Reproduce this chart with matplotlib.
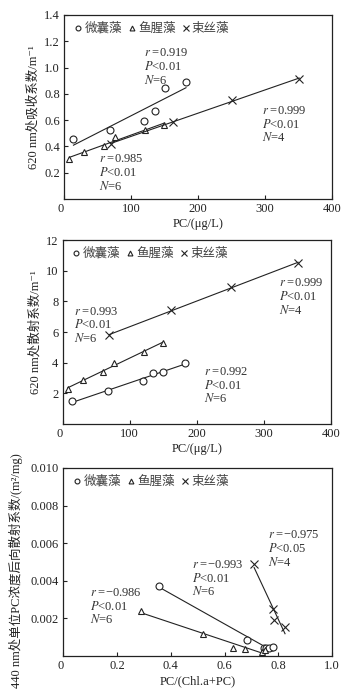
import matplotlib
matplotlib.use("Agg")
import matplotlib.pyplot as plt
import numpy as np

plt.rcParams['font.family'] = ['Liberation Serif', 'Noto Sans CJK SC', 'DejaVu Serif']
plt.rcParams['mathtext.fontset'] = 'stix'
plt.rcParams['font.size'] = 9

species = ['微囊藻', '鱼腥藻', '束丝藻']

# panel 1: absorption at 620 nm vs PC
pc_mic = [14, 68, 120, 135, 150, 182]
abs_mic = [0.46, 0.525, 0.596, 0.667, 0.842, 0.888]
pc_ana = [8, 30, 60, 76, 121, 149]
abs_ana = [0.302, 0.36, 0.406, 0.474, 0.525, 0.563]
pc_aph = [70, 162, 251, 351]
abs_aph = [0.418, 0.588, 0.753, 0.913]

# panel 2: scattering at 620 nm vs PC
sca_mic = [1.48, 2.15, 2.83, 3.3, 3.39, 3.98]
sca_ana = [2.26, 2.89, 3.39, 4.0, 4.72, 5.26]
sca_aph = [5.78, 7.43, 8.96, 10.48]

# panel 3: specific backscattering at 440 nm vs PC/(Chl.a+PC)
rat_mic = [0.356, 0.685, 0.745, 0.755, 0.765, 0.78]
bb_mic = [0.00371, 0.00085, 0.00040, 0.00045, 0.00040, 0.00050]
rat_ana = [0.29, 0.52, 0.63, 0.675, 0.74, 0.75]
bb_ana = [0.0024, 0.00115, 0.00043, 0.00036, 0.00023, 0.00032]
rat_aph = [0.71, 0.78, 0.785, 0.825]
bb_aph = [0.0049, 0.0025, 0.0019, 0.00155]

stats1 = [('0.919', '0.01', 6, 119, 1.108), ('0.999', '0.01', 4, 295, 0.67),
          ('0.985', '0.01', 6, 52, 0.302)]
stats2 = [('0.993', '0.01', 6, 17, 7.33), ('0.999', '0.01', 4, 322, 9.17),
          ('0.992', '0.01', 6, 211, 3.41)]
stats3 = [('\u22120.986', '0.01', 6, 0.099, 0.00334), ('\u22120.993', '0.01', 6, 0.478, 0.00485),
          ('\u22120.975', '0.05', 4, 0.762, 0.00641)]

ink = '#222222'
fig = plt.figure(figsize=(3.54, 6.94), dpi=100)


def fitline(ax, x, y):
    k, b = np.polyfit(x, y, 1)
    xs = np.array([min(x), max(x)])
    ax.plot(xs, k * xs + b, color=ink, lw=0.8)


def panel(rect, xs, ys, xlim, ylim, yticks, ytl, xticks, xtl, ylabel, xlabel, stats, dy):
    ax = fig.add_axes(rect)
    mk = [dict(marker='o', ms=5), dict(marker='^', ms=5), dict(marker='x', ms=6)]
    for x, y, m, name in zip(xs, ys, mk, species):
        fitline(ax, x, y)
        ax.plot(x, y, ls='none', mfc='white', mec=ink, mew=0.8, label=name, **m)
    ax.set_xlim(*xlim)
    ax.set_ylim(*ylim)
    ax.set_yticks(yticks)
    ax.set_yticklabels(ytl)
    ax.set_xticks(xticks)
    ax.set_xticklabels(xtl)
    ax.xaxis.get_major_ticks()[0].label1.set_horizontalalignment('right')
    ax.tick_params(direction='in', length=3, width=0.8, colors=ink, labelsize=9, pad=3)
    for s in ax.spines.values():
        s.set_linewidth(0.9)
        s.set_color(ink)
    ax.set_ylabel(ylabel, color=ink, labelpad=3)
    ax.set_xlabel(xlabel, color=ink, labelpad=2)
    leg = ax.legend(loc='upper left', ncol=3, frameon=False, handlelength=0.6,
                    handletextpad=0.2, columnspacing=0.5, borderaxespad=0.2,
                    markerscale=0.7, fontsize=9, bbox_to_anchor=(0.01, 1.0))
    for t in leg.get_texts():
        t.set_color('#444444')
    for r, p, n, tx, ty in stats:
        ax.text(tx, ty, r'$r$ =' + r, color='#333333', va='center', ha='left')
        ax.text(tx, ty - dy, r'$P$<' + p, color='#333333', va='center', ha='left')
        ax.text(tx, ty - 2 * dy, r'$N$=' + str(n), color='#333333', va='center', ha='left')
    return ax


panel([0.181, 0.7133, 0.757, 0.2651], [pc_mic, pc_ana, pc_aph], [abs_mic, abs_ana, abs_aph],
      (0, 400), (0, 1.4), [0.2, 0.4, 0.6, 0.8, 1.0, 1.2, 1.4],
      ['0.2', '0.4', '0.6', '0.8', '1.0', '1.2', '1.4'],
      [0, 100, 200, 300, 400], ['0', '100', '200', '300', '400'],
      '620 nm处吸收系数/m\u207b\u00b9', 'PC/(μg/L)', stats1, 0.102)

panel([0.1766, 0.389, 0.7584, 0.2651], [pc_mic, pc_ana, pc_aph], [sca_mic, sca_ana, sca_aph],
      (0, 400), (0, 12), [2, 4, 6, 8, 10, 12], ['2', '4', '6', '8', '10', '12'],
      [0, 100, 200, 300, 400], ['0', '100', '200', '300', '400'],
      '620 nm处散射系数/m\u207b\u00b9', 'PC/(μg/L)', stats2, 0.87)

ax3 = panel([0.179, 0.0548, 0.759, 0.2709], [rat_mic, rat_ana, rat_aph], [bb_mic, bb_ana, bb_aph],
            (0, 1.0), (0, 0.010), [0.002, 0.004, 0.006, 0.008, 0.010],
            ['0.002', '0.004', '0.006', '0.008', '0.010'],
            [0, 0.2, 0.4, 0.6, 0.8, 1.0], ['0', '0.2', '0.4', '0.6', '0.8', '1.0'],
            '440 nm处单位PC浓度后向散射系数/(m\u00b2/mg)', 'PC/(Chl.a+PC)', stats3, 0.00071)
ax3.yaxis.set_label_coords(-0.15, 0.455)

fig.savefig('out.png', dpi=100)
